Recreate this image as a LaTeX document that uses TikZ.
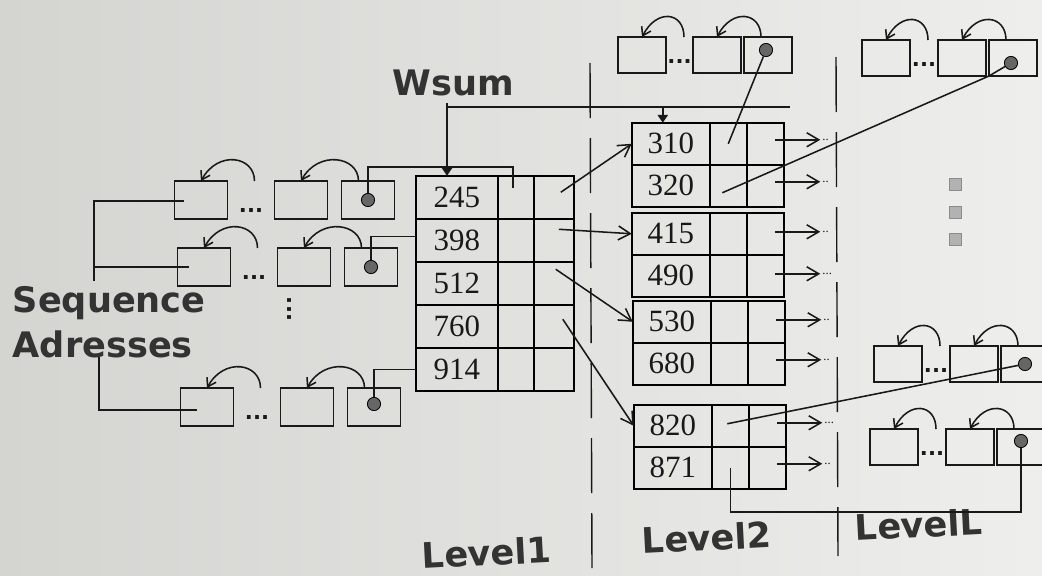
\documentclass[tikz,border=0pt]{standalone}
\usepackage{fontspec}
\setmainfont{Liberation Serif}
\setsansfont{DejaVu Sans}
\usetikzlibrary{matrix,positioning,calc,arrows.meta}
\definecolor{paperdark}{RGB}{212,212,209}
\definecolor{paperlight}{RGB}{238,238,236}

\begin{document}
\begin{tikzpicture}[
    x=0.25mm, y=-0.25mm, line width=1.1pt, color=black!90,
    tbl/.style={matrix of nodes, nodes in empty cells, inner sep=0pt, outer sep=0pt,
        column sep=-\pgflinewidth, row sep=-\pgflinewidth,
        nodes={draw, anchor=center, inner sep=0pt, outer sep=0pt, font=\fontsize{22}{22}\selectfont}},
    lvone/.style={tbl, nodes={minimum height=10.75mm},
        column 1/.style={nodes={minimum width=20.5mm}},
        column 2/.style={nodes={minimum width=9mm}},
        column 3/.style={nodes={minimum width=10mm}}},
    lvtwo/.style={tbl, nodes={minimum height=10.5mm},
        column 1/.style={nodes={minimum width=19.5mm}},
        column 2/.style={nodes={minimum width=9.25mm}},
        column 3/.style={nodes={minimum width=9.25mm}}},
    bigbox/.style={draw, inner sep=0pt, outer sep=0pt, minimum width=13.25mm, minimum height=9.5mm},
    smbox/.style={draw, inner sep=0pt, outer sep=0pt, minimum width=12mm, minimum height=9mm},
    ptr/.style={circle, draw=black, fill=black!60, line width=0.6pt, inner sep=0pt, minimum size=3.3mm},
    gap/.style={font=\sffamily\bfseries\fontsize{15}{15}\selectfont, inner sep=0pt, anchor=base},
    more/.style={font=\fontsize{9}{9}\selectfont, inner sep=1pt, anchor=west},
    lbl/.style={font=\sffamily\bfseries\fontsize{25}{25}\selectfont, text=black!80, inner sep=0pt, anchor=base west},
    sqr/.style={draw=black!45, fill=black!30, line width=0.5pt, inner sep=0pt, minimum size=3mm},
    fwd/.style={-{Straight Barb[length=3mm,width=3.5mm]}},
    back/.style={-{Straight Barb[length=2mm,width=2.6mm]}},
    tri/.style={-{Triangle[length=2mm,width=2.6mm]}},
    divider/.style={line width=1pt, dash pattern=on 13.75mm off 5mm}
]
    \useasboundingbox (0,0) rectangle (1042,576);
    \clip (0,0) rectangle (1042,576);
    \shade[left color=paperdark, right color=paperlight] (0,0) rectangle (1042,576);

    % Tables
    \matrix (t1) [lvone, anchor=north west] at (415,175) {
        245 & & \\
        398 & & \\
        512 & & \\
        760 & & \\
        914 & & \\
    };
    \matrix (t2a) [lvtwo, anchor=north west] at (631,122) {
        310 & & \\
        320 & & \\
    };
    \matrix (t2b) [lvtwo, anchor=north west] at (631,212) {
        415 & & \\
        490 & & \\
    };
    \matrix (t2c) [lvtwo, anchor=north west] at (632,300) {
        530 & & \\
        680 & & \\
    };
    \matrix (t2d) [lvtwo, anchor=north west] at (633,404) {
        820 & & \\
        871 & & \\
    };

    % Level1 sequence lists
    \node[bigbox] (a1) at (201,200) {};
    \node[bigbox, right=11.75mm of a1] (b1) {};
    \node[bigbox, right=3.5mm of b1] (c1) {};
    \node[gap] (e1) at ($(a1.east)!.5!(b1.west)+(0,12)$) {...};
    \node[ptr] (p1) at (c1.center) {};
    \draw[back] ($(a1.north east)+(27,0)$) .. controls +(0,-25) and +(17,-31) .. (a1.north);
    \draw[back] ($(c1.north west)+(17,0)$) .. controls +(0,-25) and +(17,-31) .. (b1.north);

    \node[bigbox] (a2) at (204,267) {};
    \node[bigbox, right=11.75mm of a2] (b2) {};
    \node[bigbox, right=3.5mm of b2] (c2) {};
    \node[gap] (e2) at ($(a2.east)!.5!(b2.west)+(0,12)$) {...};
    \node[ptr] (p2) at (c2.center) {};
    \draw[back] ($(a2.north east)+(27,0)$) .. controls +(0,-25) and +(17,-31) .. (a2.north);
    \draw[back] ($(c2.north west)+(17,0)$) .. controls +(0,-25) and +(17,-31) .. (b2.north);

    \node[gap, rotate=90, anchor=center] (vd) at (290,309) {...};

    \node[bigbox] (a3) at (207,407) {};
    \node[bigbox, right=11.75mm of a3] (b3) {};
    \node[bigbox, right=3.5mm of b3] (c3) {};
    \node[gap] (e3) at ($(a3.east)!.5!(b3.west)+(0,12)$) {...};
    \node[ptr] (p3) at ([shift={(0,-3)}]c3.center) {};
    \draw[back] ($(a3.north east)+(27,0)$) .. controls +(0,-25) and +(17,-31) .. (a3.north);
    \draw[back] ($(c3.north west)+(17,0)$) .. controls +(0,-25) and +(17,-31) .. (b3.north);

    % Level2 / LevelL sequence lists
    \node[smbox] (a4) at (642,55) {};
    \node[smbox, right=6.75mm of a4] (b4) {};
    \node[smbox, right=0.75mm of b4] (c4) {};
    \node[gap] (e4) at ($(a4.east)!.5!(b4.west)+(0,8)$) {...};
    \node[ptr] (p4) at ([shift={(-2,-5)}]c4.center) {};
    \draw[back] ($(a4.north east)+(18,0)$) .. controls +(0,-25) and +(15,-29) .. (a4.north);
    \draw[back] ($(c4.north west)+(17,0)$) .. controls +(0,-25) and +(15,-29) .. (b4.north);

    \node[smbox] (a5) at (886,58) {};
    \node[smbox, right=7mm of a5] (b5) {};
    \node[smbox, right=0.75mm of b5] (c5) {};
    \node[gap] (e5) at ($(a5.east)!.5!(b5.west)+(0,8)$) {...};
    \node[ptr] (p5) at ([shift={(-2,5)}]c5.center) {};
    \draw[back] ($(a5.north east)+(18,0)$) .. controls +(0,-25) and +(15,-29) .. (a5.north);
    \draw[back] ($(c5.north west)+(17,0)$) .. controls +(0,-25) and +(15,-29) .. (b5.north);

    \node[smbox] (a6) at (898,364) {};
    \node[smbox, right=7mm of a6] (b6) {};
    \node[smbox, right=0.75mm of b6] (c6) {};
    \node[gap] (e6) at ($(a6.east)!.5!(b6.west)+(0,8)$) {...};
    \node[ptr] (p6) at (c6.center) {};
    \draw[back] ($(a6.north east)+(18,0)$) .. controls +(0,-25) and +(15,-29) .. (a6.north);
    \draw[back] ($(c6.north west)+(17,0)$) .. controls +(0,-25) and +(15,-29) .. (b6.north);

    \node[smbox] (a7) at (894,447) {};
    \node[smbox, right=7mm of a7] (b7) {};
    \node[smbox, right=0.75mm of b7] (c7) {};
    \node[gap] (e7) at ($(a7.east)!.5!(b7.west)+(0,8)$) {...};
    \node[ptr] (p7) at ([shift={(0,-6)}]c7.center) {};
    \draw[back] ($(a7.north east)+(18,0)$) .. controls +(0,-25) and +(15,-29) .. (a7.north);
    \draw[back] ($(c7.north west)+(17,0)$) .. controls +(0,-25) and +(15,-29) .. (b7.north);

    % more levels
    \node[sqr] (s1) at (955,184) {};
    \node[sqr] (s2) at (955,212) {};
    \node[sqr] (s3) at (955,239) {};

    % Labels
    \node[lbl] (wsum) at (392,95) {Wsum};
    \node[lbl] (seq) at (12,312) {Sequence};
    \node[lbl] (adr) at (12,357) {Adresses};
    \node[lbl, rotate=3] (lv1) at (422,569) {Level1};
    \node[lbl, rotate=3] (lv2) at (642,554) {Level2};
    \node[lbl, rotate=3] (lvl) at (855,541) {LevelL};

    % Level dividers
    \draw[divider] (590,63) -- (592,568);
    \draw[divider] (836,57) -- (838,556);

    % Sequence addresses
    \coordinate (seqtap) at (94,281);
    \draw (seqtap) |- ([shift={(-17,1)}]a1.center);
    \draw (seqtap |- a2.center) -- ([shift={(-15,0)}]a2.center);
    \coordinate (adrtap) at (99,357);
    \draw (adrtap) |- ([shift={(-10,3)}]a3.center);

    % Wsum
    \coordinate (wtop) at (447,103);
    \coordinate (wbar) at (447,107);
    \coordinate (wend) at (790,107);
    \coordinate (wdrop) at ([shift={(-8,0)}]t2a-1-1.north);
    \draw[tri] (wtop) -- (wtop |- t1-1-1.north);
    \draw (wbar) -- (wend);
    \draw[tri] (wdrop |- wbar) -- (wdrop);

    % Pointers from list heads
    \draw (p1) -- ++(0,-33) -| ([shift={(-3,-9)}]t1-1-2.center);
    \draw (p2) |- ([shift={(0,-4)}]t1-2-1.west);
    \draw (p3) |- (t1-5-1.west);
    \draw (t2a-1-2.center) -- (p4);
    \draw ([shift={(-6,7)}]t2a-2-2.center) -- (c5.south west) -- (p5);
    \draw ([shift={(-3,-2)}]t2d-1-2.center) -- (p6);
    \draw (t2d-2-2.center) -- ++(0,44) -| (p7);

    % Level1 -> Level2
    \draw[fwd] ([shift={(7,-5)}]t1-1-3.center) -- (t2a-1-1.west);
    \draw[fwd] ([shift={(5,-11)}]t1-2-3.center) -- (t2b-1-1.west);
    \draw[fwd] ([shift={(2,-14)}]t1-3-3.center) -- (t2c-1-1.west);
    \draw[fwd] ([shift={(9,-7)}]t1-4-3.center) -- (t2d-1-1.west);

    % Level2 -> next level
    \node[more] (m1) at ([shift={(55,-4)}]t2a-1-3.center) {..};
    \node[more] (m2) at ([shift={(55,-4)}]t2a-2-3.center) {..};
    \node[more] (m3) at ([shift={(55,-2)}]t2b-1-3.center) {..};
    \node[more] (m4) at ([shift={(55,-2)}]t2b-2-3.center) {...};
    \node[more] (m5) at ([shift={(55,-2)}]t2c-1-3.center) {..};
    \node[more] (m6) at ([shift={(55,-4)}]t2c-2-3.center) {..};
    \node[more] (m7) at ([shift={(55,-3)}]t2d-1-3.center) {...};
    \node[more] (m8) at ([shift={(55,-4)}]t2d-2-3.center) {..};
    \draw[fwd] ([shift={(10,-4)}]t2a-1-3.center) -- (m1);
    \draw[fwd] ([shift={(10,-4)}]t2a-2-3.center) -- (m2);
    \draw[fwd] ([shift={(10,-2)}]t2b-1-3.center) -- (m3);
    \draw[fwd] ([shift={(10,-2)}]t2b-2-3.center) -- (m4);
    \draw[fwd] ([shift={(10,-2)}]t2c-1-3.center) -- (m5);
    \draw[fwd] ([shift={(10,-4)}]t2c-2-3.center) -- (m6);
    \draw[fwd] ([shift={(10,-3)}]t2d-1-3.center) -- (m7);
    \draw[fwd] ([shift={(10,-4)}]t2d-2-3.center) -- (m8);

\end{tikzpicture}
\end{document}
